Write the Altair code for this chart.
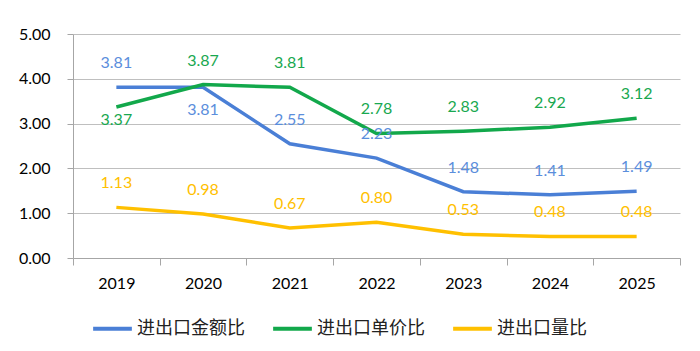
import altair as alt
import pandas as pd

years = ["2019", "2020", "2021", "2022", "2023", "2024", "2025"]
series_names = ["进出口金额比", "进出口单价比", "进出口量比"]
amount_ratio = [3.81, 3.81, 2.55, 2.23, 1.48, 1.41, 1.49]
price_ratio = [3.37, 3.87, 3.81, 2.78, 2.83, 2.92, 3.12]
volume_ratio = [1.13, 0.98, 0.67, 0.80, 0.53, 0.48, 0.48]

line_colors = ["#4A7FD6", "#12A84B", "#FFC000"]
text_colors = ["#5B8EDC", "#19A850", "#FFC000"]

rows = []
for name, vals in zip(series_names, [amount_ratio, price_ratio, volume_ratio]):
    for y, v in zip(years, vals):
        rows.append({"year": y, "series": name, "value": v})
df = pd.DataFrame(rows)

base = alt.Chart(df)

x_enc = alt.X("year:N", sort=years, title=None,
              scale=alt.Scale(paddingInner=0, paddingOuter=0),
              axis=alt.Axis(tickBand="extent", labelAngle=0, labelFont="Lato",
                            labelFontSize=16, labelColor="#000000", labelPadding=10,
                            tickSize=7, tickColor="#A6A6A6", domainColor="#A6A6A6",
                            domainWidth=1, grid=False))
y_enc = alt.Y("value:Q", title=None,
              scale=alt.Scale(domain=[0, 5], nice=False),
              axis=alt.Axis(values=[0, 1, 2, 3, 4, 5], format=".2f", labelFont="Lato",
                            labelFontSize=16, labelColor="#000000", labelPadding=17,
                            tickSize=6, tickColor="#A6A6A6", gridColor="#BFBFBF",
                            domainColor="#A6A6A6", grid=True))

color_enc = alt.Color("series:N", sort=series_names,
                      scale=alt.Scale(domain=series_names, range=line_colors),
                      legend=alt.Legend(title=None, orient="none", direction="horizontal",
                                        legendX=18, legendY=273, symbolType="stroke",
                                        symbolSize=1500, symbolStrokeWidth=4,
                                        labelFont="Noto Sans CJK SC", labelFontSize=18,
                                        labelColor="#222222", columnPadding=20,
                                        labelOffset=3))

lines = base.mark_line(strokeWidth=3.5).encode(
    x=x_enc, y=y_enc, color=color_enc, order=alt.Order("year:N"))

text_color = alt.Color("series:N", scale=alt.Scale(domain=series_names, range=text_colors),
                       legend=None)

below_a = "(datum.series == '进出口金额比' && datum.year == '2020')"
below_b = "(datum.series == '进出口单价比' && datum.year == '2019')"

labels_above = base.transform_filter(f"!{below_a} && !{below_b}").mark_text(
    dy=-24, font="Lato", fontSize=16).encode(
    x=alt.X("year:N", sort=years), y="value:Q",
    text=alt.Text("value:Q", format=".2f"), color=text_color)
labels_below_a = base.transform_filter(below_a).mark_text(
    dy=23, font="Lato", fontSize=16).encode(
    x=alt.X("year:N", sort=years), y="value:Q",
    text=alt.Text("value:Q", format=".2f"), color=text_color)
labels_below_b = base.transform_filter(below_b).mark_text(
    dy=13, font="Lato", fontSize=16).encode(
    x=alt.X("year:N", sort=years), y="value:Q",
    text=alt.Text("value:Q", format=".2f"), color=text_color)

chart = alt.layer(lines, labels_above, labels_below_a, labels_below_b).resolve_scale(
    color="independent").properties(
    width=607, height=224,
    autosize=alt.AutoSizeParams(type="none"),
    padding={"left": 73, "top": 34, "right": 20, "bottom": 93},
    background="white"
).configure_view(stroke=None)

chart.save("out.html", embed_options={"renderer": "svg", "actions": False})
